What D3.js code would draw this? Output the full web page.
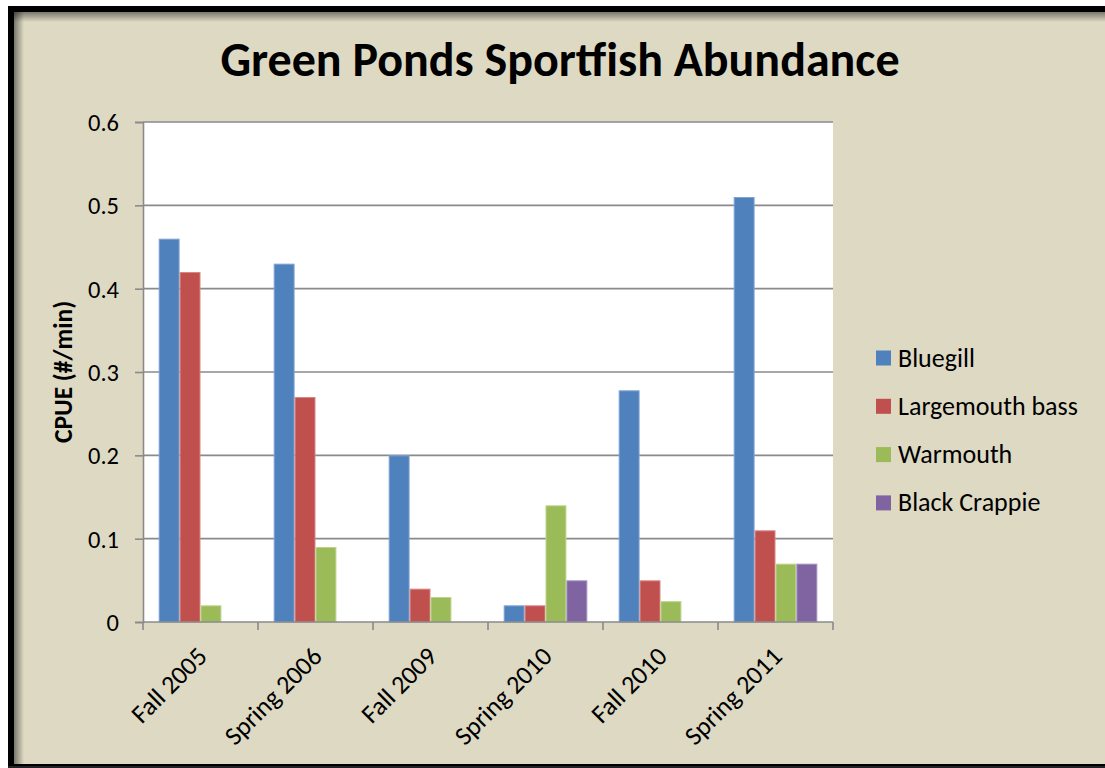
<!DOCTYPE html>
<html>
<head>
<meta charset="utf-8">
<script src="https://cdn.jsdelivr.net/npm/d3@7/dist/d3.min.js"></script>
<style>
  html, body { margin: 0; padding: 0; background: #fff; }
  svg { display: block; }
  text { font-family: Carlito, Calibri, Lato, "Open Sans", sans-serif; fill: #000; }
</style>
</head>
<body>
<svg id="chart" width="1105" height="768"></svg>
<script>
// Survey periods along the x axis
const categories = ["Fall 2005", "Spring 2006", "Fall 2009", "Spring 2010", "Fall 2010", "Spring 2011"];

// Catch per unit effort (#/min) for each species
const bluegill      = [0.46, 0.43, 0.20, 0.02, 0.278, 0.51];
const largemouth    = [0.42, 0.27, 0.04, 0.02, 0.05, 0.11];
const warmouth      = [0.02, 0.09, 0.03, 0.14, 0.025, 0.07];
const blackCrappie  = [0, 0, 0, 0.05, 0, 0.07];

const seriesNames = ["Bluegill", "Largemouth bass", "Warmouth", "Black Crappie"];
const seriesValues = [bluegill, largemouth, warmouth, blackCrappie];
const seriesColors = ["#4f81bd", "#c0504d", "#9bbb59", "#8064a2"];
const seriesStroke = ["#7fa3d3", "#d88583", "#bcd58a", "#a58fc2"];

const yTicks = [0, 0.1, 0.2, 0.3, 0.4, 0.5, 0.6];
const titleText = "Green Ponds Sportfish Abundance";
const yTitle = "CPUE (#/min)";

const W = 1105, H = 768;
const svg = d3.select("#chart");

// Background and frame
svg.append("rect").attr("width", W).attr("height", H).attr("fill", "#ffffff");
svg.append("rect").attr("x", 8).attr("y", 6).attr("width", W + 20).attr("height", H + 20).attr("fill", "#ddd9c3");

const defs = svg.append("defs");
const gTop = defs.append("linearGradient").attr("id", "shTop").attr("x1", 0).attr("y1", 0).attr("x2", 0).attr("y2", 1);
gTop.append("stop").attr("offset", 0).attr("stop-color", "#000").attr("stop-opacity", 0.45);
gTop.append("stop").attr("offset", 1).attr("stop-color", "#000").attr("stop-opacity", 0);
const gLeft = defs.append("linearGradient").attr("id", "shLeft").attr("x1", 0).attr("y1", 0).attr("x2", 1).attr("y2", 0);
gLeft.append("stop").attr("offset", 0).attr("stop-color", "#000").attr("stop-opacity", 0.45);
gLeft.append("stop").attr("offset", 1).attr("stop-color", "#000").attr("stop-opacity", 0);

svg.append("rect").attr("x", 14).attr("y", 12).attr("width", W).attr("height", 10).attr("fill", "url(#shTop)");
svg.append("rect").attr("x", 14).attr("y", 12).attr("width", 10).attr("height", H).attr("fill", "url(#shLeft)");

// Black frame border (right side runs off the canvas)
svg.append("rect").attr("x", 11).attr("y", 9).attr("width", W + 20).attr("height", H - 10)
  .attr("fill", "none").attr("stroke", "#000").attr("stroke-width", 6);
svg.append("rect").attr("x", 8).attr("y", 766).attr("width", W).attr("height", 2).attr("fill", "#222");

// Plot area
const plot = { left: 143, right: 833, top: 122, bottom: 622 };

const x0 = d3.scaleBand().domain(categories).range([plot.left, plot.right]).paddingInner(0).paddingOuter(0);
const barW = x0.bandwidth() / (seriesNames.length + 1.5);
const x1 = d3.scaleBand().domain(seriesNames)
  .range([barW * 0.75, barW * 0.75 + barW * seriesNames.length]).padding(0);
const y = d3.scaleLinear().domain([0, 0.6]).range([plot.bottom, plot.top]);

svg.append("rect")
  .attr("x", plot.left).attr("y", plot.top)
  .attr("width", plot.right - plot.left).attr("height", plot.bottom - plot.top)
  .attr("fill", "#ffffff");

// Horizontal gridlines
svg.append("g")
  .selectAll("line").data(yTicks.filter(d => d > 0)).join("line")
  .attr("x1", plot.left).attr("x2", plot.right)
  .attr("y1", d => y(d)).attr("y2", d => y(d))
  .attr("stroke", "#8a8a8a").attr("stroke-width", 1.6);

// Bars
const groups = svg.append("g").selectAll("g").data(categories).join("g")
  .attr("transform", d => `translate(${x0(d)},0)`);

groups.selectAll("rect")
  .data((c, i) => seriesNames.map((s, k) => ({ s, k, v: seriesValues[k][i] })).filter(d => d.v > 0))
  .join("rect")
  .attr("x", d => x1(d.s) + 0.5)
  .attr("width", x1.bandwidth() - 1)
  .attr("y", d => y(d.v) + 0.5)
  .attr("height", d => y(0) - y(d.v) - 0.5)
  .attr("fill", d => seriesColors[d.k])
  .attr("stroke", d => seriesStroke[d.k])
  .attr("stroke-width", 1);

// Y axis
const yAxis = d3.axisLeft(y).tickValues(yTicks)
  .tickFormat(d => d === 0 ? "0" : d3.format(".1f")(d))
  .tickSize(8).tickPadding(16);
const gy = svg.append("g").attr("transform", `translate(${plot.left},0)`).call(yAxis);
gy.select(".domain").attr("stroke", "#8a8a8a").attr("stroke-width", 1.6);
gy.selectAll(".tick line").attr("stroke", "#8a8a8a").attr("stroke-width", 1.6);
gy.selectAll(".tick text").attr("font-size", 24.5).attr("fill", "#000").attr("dy", "0.34em")
  .style("font-family", "Carlito, Calibri, Lato, sans-serif");

// X axis: ticks at category boundaries
const bounds = categories.map(c => x0(c)).concat([plot.right]);
svg.append("line").attr("x1", plot.left).attr("x2", plot.right)
  .attr("y1", plot.bottom).attr("y2", plot.bottom)
  .attr("stroke", "#8a8a8a").attr("stroke-width", 1.6);
svg.append("g").selectAll("line").data(bounds).join("line")
  .attr("x1", d => d).attr("x2", d => d)
  .attr("y1", plot.bottom).attr("y2", plot.bottom + 8)
  .attr("stroke", "#8a8a8a").attr("stroke-width", 1.6);

svg.append("g").selectAll("text").data(categories).join("text")
  .attr("transform", d => `translate(${x0(d) + x0.bandwidth() / 2 + 8},${plot.bottom + 36}) rotate(-45)`)
  .attr("text-anchor", "end")
  .attr("font-size", 26)
  .text(d => d);

// Y axis title
svg.append("text")
  .attr("transform", `translate(72,372) rotate(-90)`)
  .attr("text-anchor", "middle")
  .attr("font-size", 25.5).attr("font-weight", "bold")
  .text(yTitle);

// Chart title
svg.append("text")
  .attr("x", 560).attr("y", 76)
  .attr("text-anchor", "middle")
  .attr("font-size", 48).attr("font-weight", "bold")
  .text(titleText);

// Legend
const legend = svg.append("g").selectAll("g").data(seriesNames).join("g")
  .attr("transform", (d, i) => `translate(876,${358 + i * 48.3})`);
legend.append("rect").attr("x", 0).attr("y", -7.5).attr("width", 15).attr("height", 15)
  .attr("fill", (d, i) => seriesColors[i]);
legend.append("text").attr("x", 22).attr("y", 8.5).attr("font-size", 26).text(d => d);
</script>
</body>
</html>
